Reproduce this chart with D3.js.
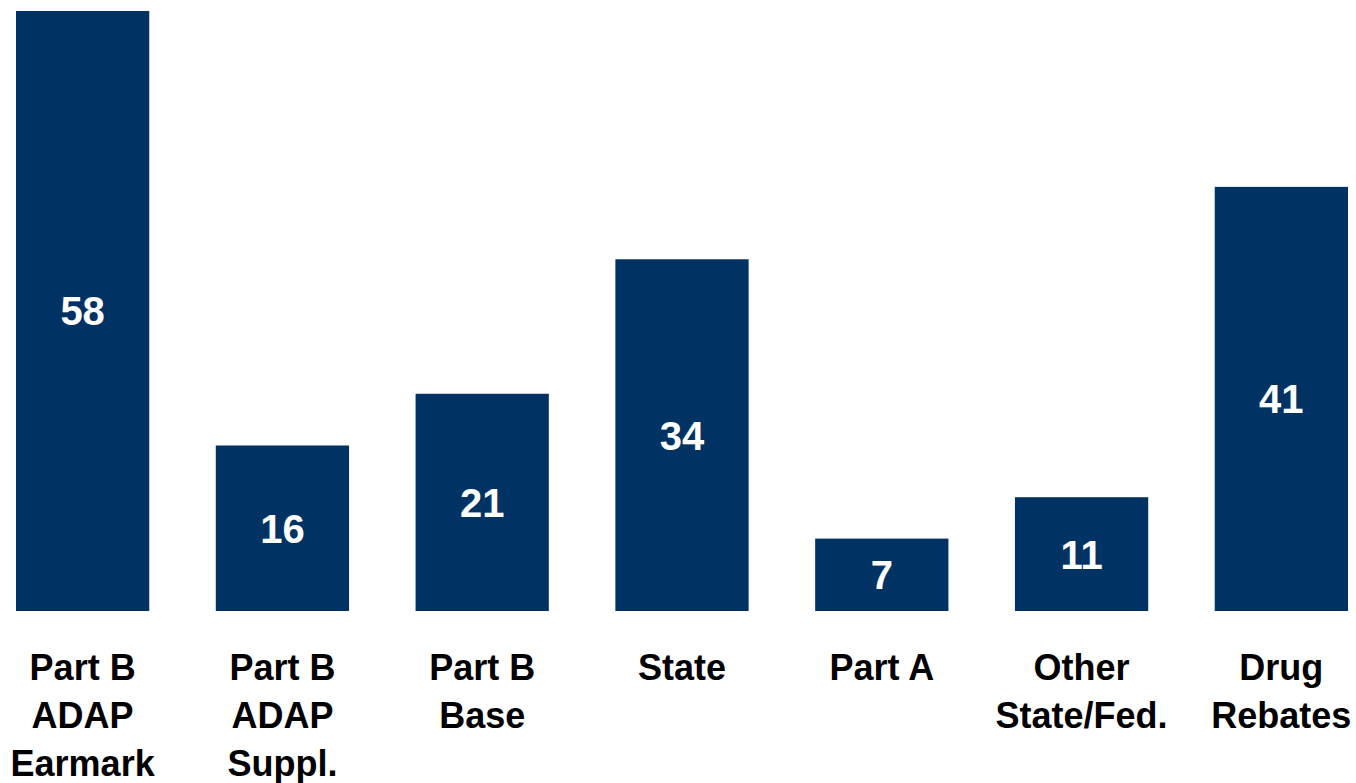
<!DOCTYPE html>
<html><head><meta charset="utf-8">
<script src="https://cdn.jsdelivr.net/npm/d3@7"></script>
<style>body{margin:0;background:#fff}svg{display:block}</style>
</head><body>
<svg id="chart" width="1356" height="783"></svg>
<script>
const categories = [["Part B","ADAP","Earmark"],["Part B","ADAP","Suppl."],["Part B","Base"],["State"],["Part A"],["Other","State/Fed."],["Drug","Rebates"]];
const values = [58,16,21,34,7,11,41];

const svg = d3.select("#chart");
const x = d3.scaleBand().domain(d3.range(values.length)).range([16,1348]).paddingInner(0.333).paddingOuter(0);
const y = d3.scaleLinear().domain([0,58]).range([611,11]);
const font = "'Liberation Sans', Arial, sans-serif";

svg.selectAll("rect.bar").data(values).join("rect")
  .attr("class","bar")
  .attr("x",(d,i)=>x(i)).attr("width",x.bandwidth())
  .attr("y",d=>y(d)).attr("height",d=>y(0)-y(d))
  .attr("fill","#003263");

svg.selectAll("text.val").data(values).join("text")
  .attr("class","val")
  .attr("x",(d,i)=>x(i)+x.bandwidth()/2)
  .attr("y",d=>(y(d)+y(0))/2)
  .attr("dy","0.36em")
  .attr("text-anchor","middle")
  .attr("fill","#fff")
  .attr("font-family",font).attr("font-weight","bold").attr("font-size",40)
  .text(d=>d);

const g = svg.selectAll("text.cat").data(categories).join("text")
  .attr("class","cat")
  .attr("text-anchor","middle")
  .attr("font-family",font).attr("font-weight","bold").attr("font-size",36)
  .attr("fill","#000");
g.selectAll("tspan").data((d,i)=>d.map(s=>({s,i}))).join("tspan")
  .attr("x",d=>x(d.i)+x.bandwidth()/2)
  .attr("y",(d,j)=>680+j*48)
  .text(d=>d.s);
</script>
</body></html>
